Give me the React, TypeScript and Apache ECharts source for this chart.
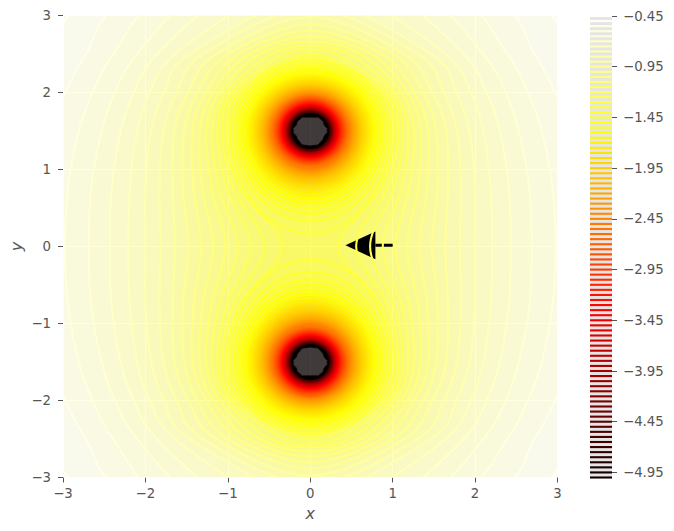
import React, { useEffect, useRef } from "react";
import * as echarts from "echarts";

// Contours that enclose both charges: |level|, x reached at y = 0, .75, 1.5, 2, 2.5, 3.25, and y reached at x = 0
const outerLevels = [0.5, 0.55, 0.6, 0.65, 0.7, 0.75, 0.8, 0.85, 0.9, 0.95, 1.0, 1.05, 1.1, 1.15, 1.2, 1.25, 1.3];
const xAtY0 = [3.708, 3.312, 2.977, 2.686, 2.432, 2.205, 2.0, 1.813, 1.64, 1.477, 1.323, 1.174, 1.028, 0.88, 0.726, 0.557, 0.342];
const xAtY075 = [3.66, 3.28, 2.94, 2.66, 2.41, 2.19, 2.0, 1.83, 1.67, 1.545, 1.415, 1.306, 1.198, 1.105, 1.011, 0.93, 0.85];
const xAtY15 = [3.52, 3.13, 2.81, 2.53, 2.3, 2.1, 1.93, 1.78, 1.65, 1.53, 1.43, 1.34, 1.26, 1.19, 1.125, 1.067, 1.016];
const xAtY2 = [3.37, 2.97, 2.64, 2.37, 2.14, 1.95, 1.77, 1.62, 1.48, 1.37, 1.26, 1.18, 1.1, 1.02, 0.96, 0.9, 0.84];
const xAtY25 = [3.14, 2.72, 2.39, 2.1, 1.86, 1.64, 1.46, 1.3, 1.14, 1.0, 0.87, 0.74, 0.61, 0.474, 0.313, null, null];
const xAtY325 = [2.63, 2.19, 1.77, 1.38, 1.02, 0.58, null, null, null, null, null, null, null, null, null, null, null];
const yAtX0 = [4.5, 4.175, 3.909, 3.687, 3.5, 3.34, 3.2025, 3.083, 2.978, 2.885, 2.803, 2.729, 2.663, 2.603, 2.549, 2.5, 2.455];

// Contours around a single charge, distance from it: away from the other charge, sideways, towards it
const innerLevels = [1.35, 1.4, 1.45, 1.5, 1.55, 1.6, 1.65, 1.7, 1.75, 1.8, 1.85, 1.9, 1.95, 2.0, 2.05, 2.1, 2.15, 2.2, 2.25, 2.3, 2.35, 2.4, 2.45, 2.5];
const innerAway = [0.914, 0.876, 0.841, 0.808, 0.778, 0.75, 0.724, 0.7, 0.677, 0.655, 0.635, 0.616, 0.598, 0.581, 0.565, 0.55, 0.536, 0.522, 0.509, 0.497, 0.485, 0.474, 0.463, 0.452];
const innerSide = [0.97, 0.925, 0.885, 0.852, 0.815, 0.783, 0.753, 0.727, 0.703, 0.679, 0.657, 0.636, 0.617, 0.598, 0.581, 0.565, 0.55, 0.535, 0.522, 0.51, 0.497, 0.486, 0.475, 0.463];
const innerToward = [1.333, 1.172, 1.075, 1.0, 0.939, 0.888, 0.843, 0.803, 0.768, 0.736, 0.707, 0.681, 0.656, 0.634, 0.613, 0.593, 0.575, 0.558, 0.542, 0.527, 0.513, 0.5, 0.488, 0.475];

// Nearly circular contours closest to the charges
const coreLevels = [2.55, 2.6, 2.65, 2.7, 2.75, 2.8, 2.85, 2.9, 2.95, 3.0, 3.05, 3.1, 3.15, 3.2, 3.25, 3.3, 3.35, 3.4, 3.45, 3.5, 3.55, 3.6, 3.65, 3.7, 3.75, 3.8, 3.85, 3.9, 3.95, 4.0, 4.05, 4.1, 4.15, 4.2, 4.25, 4.3, 4.35, 4.4, 4.45, 4.5, 4.55, 4.6];
const coreRadius = [0.45, 0.441, 0.431, 0.422, 0.413, 0.405, 0.397, 0.389, 0.382, 0.375, 0.368, 0.361, 0.355, 0.348, 0.342, 0.337, 0.331, 0.326, 0.321, 0.315, 0.311, 0.306, 0.301, 0.297, 0.292, 0.288, 0.284, 0.28, 0.276, 0.272, 0.269, 0.265, 0.262, 0.258, 0.255, 0.252, 0.249, 0.246, 0.243, 0.24, 0.237, 0.234];

const chargeY = [1.5, -1.5];

// Jagged dark centre around a charge: offsets from the charge, in data units
const blobDx = [-0.097, 0.097, 0.158, 0.17, 0.207, 0.207, 0.17, 0.158, 0.097, 0, -0.097, -0.158, -0.17, -0.207, -0.207, -0.17, -0.158];
const blobDy = [0.181, 0.181, 0.123, 0.078, 0.032, -0.019, -0.065, -0.104, -0.181, -0.194, -0.181, -0.104, -0.065, -0.019, 0.032, 0.078, 0.123];

// Arrow on the x axis
const arrowX = [0.427, 0.79, 0.79];
const arrowY = [0.015, 0.195, -0.165];
const arrowTailX = [0.79, 1.0];
const arrowTailY = [0.015, 0.015];

const barTicks = [-0.45, -0.95, -1.45, -1.95, -2.45, -2.95, -3.45, -3.95, -4.45, -4.95];
const barLevels = [-0.45, -0.5, -0.55, -0.6, -0.65, -0.7, -0.75, -0.8, -0.85, -0.9, -0.95, -1.0, -1.05, -1.1, -1.15, -1.2, -1.25, -1.3, -1.35, -1.4, -1.45, -1.5, -1.55, -1.6, -1.65, -1.7, -1.75, -1.8, -1.85, -1.9, -1.95, -2.0, -2.05, -2.1, -2.15, -2.2, -2.25, -2.3, -2.35, -2.4, -2.45, -2.5, -2.55, -2.6, -2.65, -2.7, -2.75, -2.8, -2.85, -2.9, -2.95, -3.0, -3.05, -3.1, -3.15, -3.2, -3.25, -3.3, -3.35, -3.4, -3.45, -3.5, -3.55, -3.6, -3.65, -3.7, -3.75, -3.8, -3.85, -3.9, -3.95, -4.0, -4.05, -4.1, -4.15, -4.2, -4.25, -4.3, -4.35, -4.4, -4.45, -4.5, -4.55, -4.6, -4.65, -4.7, -4.75, -4.8, -4.85, -4.9, -4.95, -5.0];

const INK = "#555555";
const FONT = "DejaVu Sans";
const FILL_ALPHA = 0.75;
const LINE_W = 2.1;

// matplotlib "hot" colormap over -5 .. -0.45
function hot(v: number, alpha = 1) {
  const t = Math.max(0, Math.min(1, (v + 5) / 4.55));
  const r = Math.min(1, 0.0416 + (0.9584 * t) / 0.365);
  const g = Math.max(0, Math.min(1, (t - 0.365) / 0.381));
  const b = Math.max(0, Math.min(1, (t - 0.746) / 0.254));
  return `rgba(${Math.round(r * 255)},${Math.round(g * 255)},${Math.round(b * 255)},${alpha})`;
}

type P = number[];

function outerContour(i: number): P[] {
  const q: P[] = [
    [xAtY0[i], 0],
    [xAtY075[i], 0.75],
    [xAtY15[i], 1.5],
    [xAtY2[i], 2],
  ];
  if (xAtY25[i] != null) q.push([xAtY25[i] as number, 2.5]);
  if (xAtY325[i] != null) q.push([xAtY325[i] as number, 3.25]);
  const pts: P[] = [...q, [0, yAtX0[i]]];
  for (let k = q.length - 1; k >= 0; k--) pts.push([-q[k][0], q[k][1]]);
  for (let k = 1; k < q.length; k++) pts.push([-q[k][0], -q[k][1]]);
  pts.push([0, -yAtX0[i]]);
  for (let k = q.length - 1; k >= 1; k--) pts.push([q[k][0], -q[k][1]]);
  return pts;
}

// Always counter-clockwise in data space, so that holes cut correctly
function eggContour(cy: number, side: number, away: number, toward: number): P[] {
  const up = cy > 0 ? away : toward;
  const down = cy > 0 ? toward : away;
  const pts: P[] = [];
  const n = 16;
  for (let k = 0; k < n; k++) {
    const a = (k / n) * Math.PI * 2;
    const s = Math.sin(a);
    pts.push([side * Math.cos(a), cy + (s >= 0 ? up : down) * s]);
  }
  return pts;
}

function ringsFor(level: number): P[][] {
  let i = outerLevels.indexOf(level);
  if (i >= 0) return [outerContour(i)];
  i = innerLevels.indexOf(level);
  if (i >= 0) return chargeY.map((c) => eggContour(c, innerSide[i], innerAway[i], innerToward[i]));
  i = coreLevels.indexOf(level);
  return chargeY.map((c) => eggContour(c, coreRadius[i], coreRadius[i], coreRadius[i]));
}

function smoothPath(api: any, pts: P[], reverse: boolean) {
  const src = reverse ? [...pts].reverse() : pts;
  const p = src.map((d) => api.coord(d));
  const n = p.length;
  let s = `M${p[0][0]} ${p[0][1]}`;
  for (let i = 0; i < n; i++) {
    const p0 = p[(i - 1 + n) % n];
    const p1 = p[i];
    const p2 = p[(i + 1) % n];
    const p3 = p[(i + 2) % n];
    const c1 = [p1[0] + (p2[0] - p0[0]) / 6, p1[1] + (p2[1] - p0[1]) / 6];
    const c2 = [p2[0] - (p3[0] - p1[0]) / 6, p2[1] - (p3[1] - p1[1]) / 6];
    s += `C${c1[0]} ${c1[1]} ${c2[0]} ${c2[1]} ${p2[0]} ${p2[1]}`;
  }
  return s + "Z";
}

function straightPath(api: any, pts: P[], reverse: boolean) {
  const src = reverse ? [...pts].reverse() : pts;
  return src.map((d, i) => {
    const c = api.coord(d);
    return `${i ? "L" : "M"}${c[0]} ${c[1]}`;
  }).join("") + "Z";
}

const allLevels = [...outerLevels, ...innerLevels, ...coreLevels];

const frame: P[] = [[-3, -3], [3, -3], [3, 3], [-3, 3]];

function dot(x = 0, y = 0) {
  return [x, y];
}

function App() {
  const ref = useRef<HTMLDivElement>(null);
  useEffect(() => {
    const chart = echarts.init(ref.current!, null, { renderer: "svg" });

    const renderBand = (params: any, api: any) => {
      const i = params.dataIndex;
      const d = [];
      if (i === 0) {
        d.push(straightPath(api, frame, false));
      } else {
        ringsFor(allLevels[i - 1]).forEach((r) => d.push(smoothPath(api, r, false)));
      }
      ringsFor(allLevels[i]).forEach((r) => d.push(smoothPath(api, r, true)));
      const a = i === 0 ? 0.45 : allLevels[i - 1];
      const b = allLevels[i];
      return {
        type: "path",
        shape: { pathData: d.join("") },
        style: { fill: hot(-(a + b) / 2, FILL_ALPHA), stroke: null },
      };
    };

    const renderLine = (params: any, api: any) => {
      const level = allLevels[params.dataIndex];
      const d = ringsFor(level).map((r) => smoothPath(api, r, false)).join("");
      return {
        type: "path",
        shape: { pathData: d },
        style: { fill: null, stroke: hot(-level), lineWidth: LINE_W },
      };
    };

    const renderArrow = (_p: any, api: any) => ({
      type: "group",
      children: [
        {
          type: "path",
          shape: { pathData: straightPath(api, arrowX.map((x, i) => [x, arrowY[i]]), false) },
          style: { fill: "#000", stroke: null },
        },
        {
          type: "path",
          shape: {
            pathData: arrowTailX.map((x, i) => {
              const c = api.coord([x, arrowTailY[i]]);
              return `${i ? "L" : "M"}${c[0]} ${c[1]}`;
            }).join(""),
          },
          style: { fill: null, stroke: "#000", lineWidth: 3 },
        },
      ],
    });

    const blob = (cy: number): P[] => {
      const dir = cy > 0 ? 1 : -1;
      return blobDx.map((x, i) => [x, cy + dir * blobDy[i]]);
    };

    const renderCore = (params: any, api: any) => {
      const cy = chargeY[params.dataIndex];
      const r = coreRadius[coreRadius.length - 1];
      return {
        type: "group",
        children: [
          {
            type: "path",
            shape: {
              pathData:
                smoothPath(api, eggContour(cy, r, r, r), false) + straightPath(api, blob(cy), cy < 0),
            },
            style: { fill: "#050000", stroke: null },
          },
          {
            type: "path",
            shape: { pathData: straightPath(api, blob(cy), false) },
            style: { fill: "rgba(10,0,0,0.75)", stroke: "#050000", lineWidth: 1 },
          },
        ],
      };
    };

    const renderBarLine = (params: any, api: any) => {
      const v = barLevels[params.dataIndex];
      const a = api.coord([0, v]);
      const b = api.coord([1, v]);
      return {
        type: "line",
        shape: { x1: a[0], y1: a[1], x2: b[0], y2: b[1] },
        style: { stroke: hot(v), lineWidth: LINE_W },
      };
    };

    const tickFmt = (v: number) => String(v).replace("-", "\u2212");

    chart.setOption({
      animation: false,
      backgroundColor: "#ffffff",
      grid: [
        { left: 63, top: 15.5, width: 494.5, height: 462, show: true, backgroundColor: "#E5E5E5", borderWidth: 0, outerBoundsMode: "none" },
        { left: 590, top: 15.5, width: 22, height: 462, show: true, backgroundColor: "#E5E5E5", borderWidth: 0, outerBoundsMode: "none" },
      ],
      xAxis: [
        {
          gridIndex: 0,
          type: "value",
          position: "bottom",
          min: -3,
          max: 3,
          interval: 1,
          name: "x",
          nameLocation: "middle",
          nameGap: 28,
          nameMoveOverlap: false,
          nameTextStyle: { color: INK, fontFamily: FONT, fontStyle: "italic", fontSize: 16 },
          axisLine: { show: false, onZero: false },
          axisTick: { show: true, length: 5, lineStyle: { color: INK, width: 1 } },
          axisLabel: { color: INK, fontFamily: FONT, fontSize: 13.3, margin: 9, formatter: tickFmt },
          splitLine: { show: true, lineStyle: { color: "#ffffff", width: 1 } },
        },
        { gridIndex: 1, type: "value", min: 0, max: 1, show: false },
      ],
      yAxis: [
        {
          gridIndex: 0,
          type: "value",
          position: "left",
          min: -3,
          max: 3,
          interval: 1,
          name: "y",
          nameLocation: "middle",
          nameGap: 39,
          nameMoveOverlap: false,
          nameTextStyle: { color: INK, fontFamily: FONT, fontStyle: "italic", fontSize: 16 },
          axisLine: { show: false, onZero: false },
          axisTick: { show: true, length: 5, lineStyle: { color: INK, width: 1 } },
          axisLabel: { color: INK, fontFamily: FONT, fontSize: 13.3, margin: 12, formatter: tickFmt },
          splitLine: { show: true, lineStyle: { color: "#ffffff", width: 1 } },
        },
        {
          gridIndex: 1,
          type: "value",
          position: "right",
          min: -5,
          max: -0.445,
          axisLine: { show: false, onZero: false },
          axisTick: { show: true, length: 5, lineStyle: { color: INK, width: 1 }, customValues: barTicks },
          axisLabel: {
            color: INK,
            fontFamily: FONT,
            fontSize: 13.3,
            margin: 11,
            customValues: barTicks,
            formatter: (v: number) => v.toFixed(2).replace("-", "\u2212"),
          },
          splitLine: { show: false },
        },
      ],
      series: [
        {
          type: "custom",
          name: "bands",
          xAxisIndex: 0,
          yAxisIndex: 0,
          clip: true,
          silent: true,
          renderItem: renderBand,
          data: allLevels.map(() => dot()),
        },
        {
          type: "custom",
          name: "arrow",
          xAxisIndex: 0,
          yAxisIndex: 0,
          clip: true,
          silent: true,
          renderItem: renderArrow,
          data: [dot()],
        },
        {
          type: "custom",
          name: "contours",
          xAxisIndex: 0,
          yAxisIndex: 0,
          clip: true,
          silent: true,
          renderItem: renderLine,
          data: allLevels.map(() => dot()),
        },
        {
          type: "custom",
          name: "centres",
          xAxisIndex: 0,
          yAxisIndex: 0,
          clip: true,
          silent: true,
          renderItem: renderCore,
          data: chargeY.map((c) => dot(0, c)),
        },
        {
          type: "custom",
          name: "colorbar",
          xAxisIndex: 1,
          yAxisIndex: 1,
          silent: true,
          renderItem: renderBarLine,
          data: barLevels.map((v) => dot(0, v)),
        },
      ],
    });
    return () => chart.dispose();
  }, []);
  return (
    <div
      ref={ref}
      style={{ position: "fixed", left: 0, top: 0, width: 674, height: 531, background: "#fff" }}
    />
  );
}

export default App;
